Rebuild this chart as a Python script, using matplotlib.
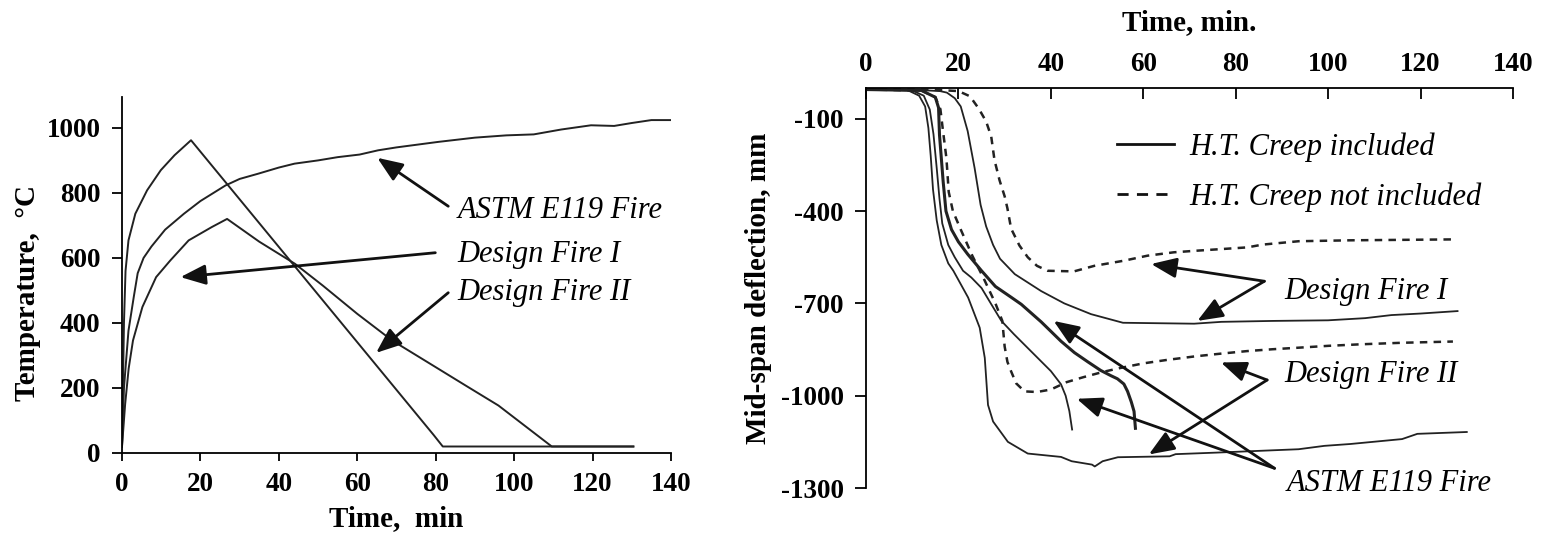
import matplotlib
matplotlib.use("Agg")
import matplotlib.pyplot as plt
from matplotlib.lines import Line2D

# ---------------- Left panel data (temperature-time) ----------------
astm_t = [0, 0.5, 1.65, 3, 4, 5.5, 7.5, 11, 15.8, 20, 26.4, 30, 34.7, 40, 44, 50, 55, 60.6, 65.3,
          70, 80.7, 90, 98, 105, 112, 119.6, 125.5, 130, 135, 140.8]
astm_T = [20, 200, 376, 480, 553, 600, 635, 687, 736, 775, 823, 843, 859, 878, 890, 900, 910, 918,
          931, 940, 957, 970, 977, 980, 995, 1008, 1006, 1015, 1024, 1024]

df1_t = [0, 0.5, 0.9, 1.65, 3.4, 6.4, 9.9, 13.4, 17.6, 79.5, 81.8, 130.4]
df1_T = [20, 400, 560, 654, 736, 808, 870, 916, 962, 55, 20, 20]

df2_t = [0, 0.8, 1.7, 2.8, 5.2, 8.7, 12.3, 17, 22.9, 26.8, 35, 44.1, 51.2, 60, 68.9, 80, 87.7,
         96, 109.6, 130.4]
df2_T = [20, 150, 260, 346, 449, 541, 592, 654, 695, 720, 650, 582, 515, 428, 346, 264, 207,
         146, 20, 20]

# ---------------- Right panel data (mid-span deflection) ----------------
df1_inc_t = [0, 12, 16, 17.5, 19.2, 20.5, 22, 23.5, 24.8, 26, 27.5, 29, 32.2, 37.9, 42.9, 48.7,
             55.6, 71, 76.9, 88, 100, 108, 113.7, 120, 128]
df1_inc_d = [-5, -7, -10, -15, -33, -60, -140, -260, -380, -450, -510, -555, -605, -660, -700,
             -735, -763, -766, -760, -757, -755, -748, -738, -733, -725]

df1_no_t = [0, 15, 20, 22.5, 24.4, 26, 27.1, 27.8, 28.9, 30, 30.6, 31.4, 33.2, 35, 37, 39.3, 45,
            49.4, 55.9, 60.9, 66.6, 71.3, 82.5, 85.8, 93.6, 104.8, 127.5]
df1_no_d = [-5, -6, -10, -27, -67, -109, -158, -234, -300, -352, -391, -457, -512, -550, -578,
            -594, -596, -578, -561, -545, -534, -529, -518, -509, -498, -495, -492]

df2_inc_t = [0, 9, 11.5, 12.8, 13.5, 14, 14.5, 15.3, 16.3, 17.8, 18.9, 22.1, 24.6, 25.7, 26.4,
             27.5, 30.7, 35, 42.2, 44.5, 48.9, 49.5, 51.2, 54.5, 65.7, 67, 75.8, 93.6,
             99.2, 104.8, 116, 119.3, 130]
df2_inc_d = [-5, -7, -25, -60, -130, -220, -330, -430, -510, -570, -594, -681, -779, -877, -1030,
             -1084, -1150, -1188, -1199, -1213, -1224, -1230, -1213, -1200, -1197, -1190, -1185,
             -1174, -1163, -1157, -1141, -1124, -1118]

df2_no_t = [0, 12, 15, 16.1, 16.6, 17.4, 17.9, 18.8, 20.5, 23, 25.5, 28, 29.5, 30, 30.6, 31.4,
            32.5, 34.3, 37, 40, 43.4, 47, 51.2, 55, 60, 65, 71.3, 77, 82.5, 88, 93.6, 100, 107,
            116, 127]
df2_no_d = [-5, -8, -30, -69, -132, -228, -338, -400, -460, -545, -620, -700, -757, -840, -890,
            -921, -960, -986, -988, -980, -956, -940, -923, -910, -895, -884, -872, -863, -855,
            -849, -844, -838, -833, -828, -824]

astm_inc_t = [0, 10, 12.5, 13.8, 14.6, 15.3, 15.9, 16.5, 17.8, 19.2, 21, 22.8, 25, 27, 29.3, 32,
              36, 40, 42.2, 43.2, 44, 44.6]
astm_inc_d = [-5, -8, -25, -70, -150, -260, -360, -440, -510, -550, -594, -616, -650, -700, -757,
              -800, -860, -920, -963, -1000, -1050, -1110]

astm_no_t = [0, 12, 15, 15.7, 15.9, 16.7, 17.3, 18.5, 20, 22, 25, 28, 31.4, 33.6, 37.9, 42.2,
             45.1, 48, 50.8, 53, 54.4, 55.8, 56.6, 57.4, 58, 58.3]
astm_no_d = [-5, -8, -30, -64, -152, -305, -400, -460, -500, -540, -594, -645, -680, -703, -760,
             -823, -860, -890, -918, -935, -945, -962, -986, -1020, -1051, -1106]

ticks_x = [0, 20, 40, 60, 80, 100, 120, 140]
ticks_T = [0, 200, 400, 600, 800, 1000]
ticks_d = [-100, -400, -700, -1000, -1300]

legend_labels = ["H.T. Creep included", "H.T. Creep not included"]

# ---------------- Figure ----------------
plt.rcParams['font.family'] = ['Liberation Serif', 'DejaVu Serif']
plt.rcParams['axes.unicode_minus'] = False

fig = plt.figure(figsize=(15.41, 5.38), dpi=100)
W, H = 1541, 538

def axes_px(l, r, t, b):
    return fig.add_axes([l / W, 1 - b / H, (r - l) / W, (b - t) / H])

TICK_FS = 19.5
lab_font = dict(fontsize=21, fontweight='bold')
ann_font = dict(fontsize=22, style='italic')
arrow_kw = dict(arrowstyle='-|>,head_length=0.7,head_width=0.28', lw=2.0, color='#111111',
                shrinkA=0, shrinkB=0, mutation_scale=22)
LC = '#222222'

# ---------- Left ----------
ax1 = axes_px(122, 671, 97, 453)
ax1.plot(astm_t, astm_T, color=LC, lw=1.4)
ax1.plot(df1_t, df1_T, color=LC, lw=1.4)
ax1.plot(df2_t, df2_T, color=LC, lw=1.4)
ax1.set_xlim(0, 140)
ax1.set_ylim(0, 1095)
ax1.set_xticks(ticks_x)
ax1.set_yticks(ticks_T)
for s in ['top', 'right']:
    ax1.spines[s].set_visible(False)
for s in ['left', 'bottom']:
    ax1.spines[s].set_linewidth(1.3)
ax1.tick_params(axis='x', direction='out', length=5.5, width=1.3, pad=8)
ax1.tick_params(axis='y', direction='out', length=7, width=1.3, pad=8.5)
for lbl in ax1.get_xticklabels() + ax1.get_yticklabels():
    lbl.set_fontsize(TICK_FS)
    lbl.set_fontweight('bold')
ax1.set_xlabel('Time,  min', labelpad=6, **lab_font)
ax1.set_ylabel('Temperature,  °C', **lab_font)
ax1.yaxis.set_label_coords(-0.148, 0.45)

ax1.text(85.5, 745, 'ASTM E119 Fire', ha='left', va='center', **ann_font)
ax1.text(85.5, 610, 'Design Fire I', ha='left', va='center', **ann_font)
ax1.text(85.5, 494, 'Design Fire II', ha='left', va='center', **ann_font)
ax1.annotate('', xy=(65.1, 908), xytext=(83.2, 759), arrowprops=arrow_kw)
ax1.annotate('', xy=(14.9, 541), xytext=(79.9, 616), arrowprops=arrow_kw)
ax1.annotate('', xy=(64.8, 308), xytext=(83.2, 493), arrowprops=arrow_kw)

# ---------- Right ----------
ax2 = axes_px(866, 1513, 88, 488)
dash = (0, (3.0, 2.5))
ax2.plot(df1_inc_t, df1_inc_d, color=LC, lw=1.3)
ax2.plot(df1_no_t, df1_no_d, color=LC, lw=1.8, linestyle=dash)
ax2.plot(df2_inc_t, df2_inc_d, color=LC, lw=1.3)
ax2.plot(df2_no_t, df2_no_d, color=LC, lw=1.8, linestyle=dash)
ax2.plot(astm_inc_t, astm_inc_d, color=LC, lw=1.3)
ax2.plot(astm_no_t, astm_no_d, color=LC, lw=2.2)
ax2.set_xlim(0, 140)
ax2.set_ylim(-1300, 0)
ax2.xaxis.tick_top()
ax2.xaxis.set_label_position('top')
ax2.set_xticks(ticks_x)
ax2.set_yticks(ticks_d)
for s in ['bottom', 'right']:
    ax2.spines[s].set_visible(False)
for s in ['left', 'top']:
    ax2.spines[s].set_linewidth(1.3)
ax2.tick_params(axis='x', direction='in', length=8, width=1.3, pad=8)
ax2.tick_params(axis='y', direction='out', length=8, width=1.3, pad=8)
for lbl in ax2.get_xticklabels() + ax2.get_yticklabels():
    lbl.set_fontsize(TICK_FS)
    lbl.set_fontweight('bold')
ax2.set_xlabel('Time, min.', labelpad=16, **lab_font)
ax2.set_ylabel('Mid-span deflection, mm', labelpad=6, **lab_font)

handles = [Line2D([], [], color='#111111', lw=2.0),
           Line2D([], [], color='#111111', lw=2.0, linestyle=(0, (4, 3)))]
leg = ax2.legend(handles, legend_labels, loc='upper left', bbox_to_anchor=(0.388, 0.89),
                 frameon=False, borderaxespad=0, borderpad=0, handlelength=1.87,
                 handletextpad=0.5, labelspacing=0.68,
                 prop=dict(family='Liberation Serif', style='italic', size=22))

ax2.text(90.6, -660, 'Design Fire I', ha='left', va='center', **ann_font)
ax2.text(90.6, -931, 'Design Fire II', ha='left', va='center', **ann_font)
ax2.text(91.0, -1284, 'ASTM E119 Fire', ha='left', va='center', **ann_font)
ax2.annotate('', xy=(61.7, -572), xytext=(86.2, -628), arrowprops=arrow_kw)
ax2.annotate('', xy=(71.7, -757), xytext=(86.2, -628), arrowprops=arrow_kw)
ax2.annotate('', xy=(76.8, -892), xytext=(86.8, -949), arrowprops=arrow_kw)
ax2.annotate('', xy=(61.2, -1191), xytext=(86.8, -949), arrowprops=arrow_kw)
ax2.annotate('', xy=(40.6, -757), xytext=(88.4, -1236), arrowprops=arrow_kw)
ax2.annotate('', xy=(45.6, -1010), xytext=(88.4, -1236), arrowprops=arrow_kw)

fig.savefig('out.png', dpi=100)
